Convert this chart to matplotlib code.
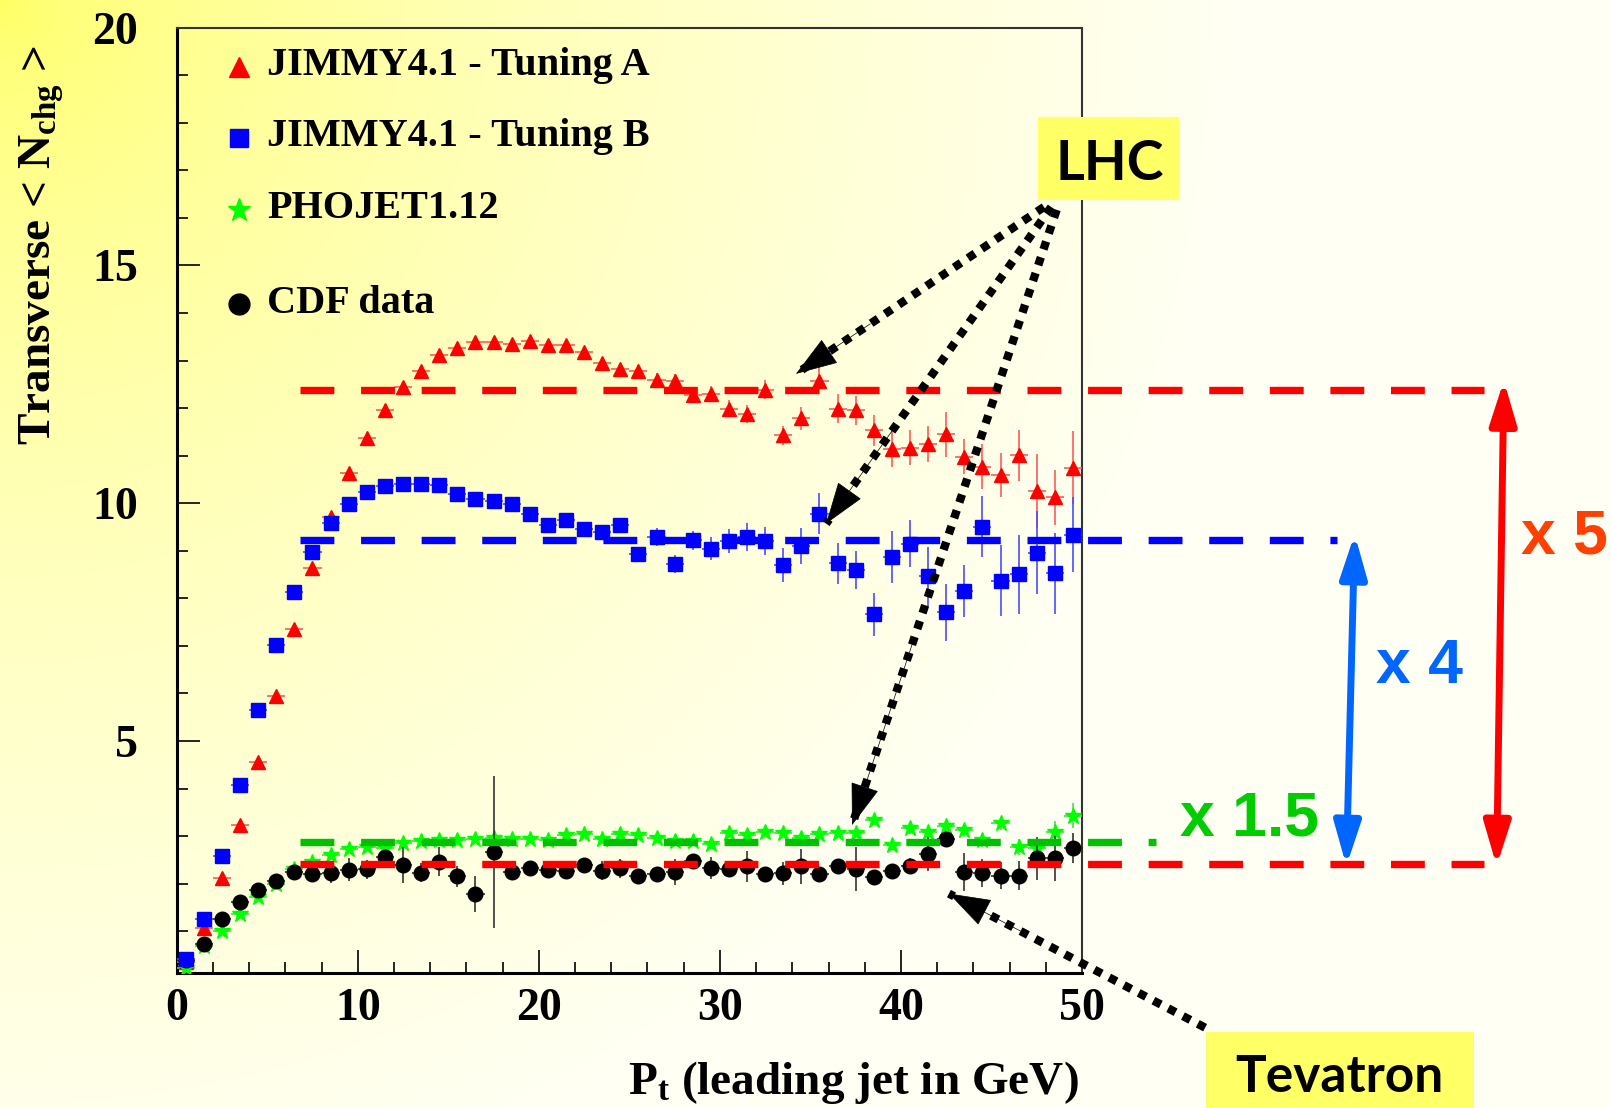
import numpy as np
import matplotlib.pyplot as plt
from matplotlib.patches import Rectangle
from matplotlib.ticker import MultipleLocator

plt.rcParams['font.family'] = ['Liberation Serif', 'DejaVu Serif']
plt.rcParams['font.weight'] = 'bold'
plt.rcParams['mathtext.fontset'] = 'custom'
plt.rcParams['mathtext.rm'] = 'Liberation Serif:bold'
plt.rcParams['mathtext.it'] = 'Liberation Serif:italic:bold'
plt.rcParams['mathtext.bf'] = 'Liberation Serif:bold'

# ---- data: transverse <Nchg> per 1 GeV bin of leading jet Pt ----
pt_bins = np.arange(0.5, 50.0, 1.0)

tuning_a = [0.35, 1.07, 2.11, 3.23, 4.55, 5.95, 7.36, 8.63, 9.72, 10.64,
            11.38, 11.97, 12.44, 12.79, 13.12, 13.26, 13.39, 13.39, 13.34, 13.41,
            13.32, 13.33, 13.17, 12.94, 12.82, 12.77, 12.59, 12.56, 12.28, 12.29,
            11.99, 11.88, 12.39, 11.43, 11.79, 12.58, 11.99, 11.95, 11.53, 11.14,
            11.17, 11.24, 11.45, 10.98, 10.77, 10.59, 11.01, 10.25, 10.12, 10.75]
tuning_a_err = [0.02, 0.03, 0.03, 0.03, 0.04, 0.04, 0.04, 0.05, 0.05, 0.05,
                0.05, 0.05, 0.06, 0.06, 0.06, 0.07, 0.07, 0.08, 0.08, 0.09,
                0.10, 0.10, 0.11, 0.12, 0.12, 0.13, 0.14, 0.15, 0.16, 0.17,
                0.18, 0.19, 0.20, 0.20, 0.24, 0.28, 0.30, 0.30, 0.32, 0.37,
                0.37, 0.38, 0.47, 0.37, 0.47, 0.47, 0.54, 0.78, 0.57, 0.77]

tuning_b = [0.42, 1.26, 2.59, 4.07, 5.65, 7.01, 8.14, 8.98, 9.59, 9.99,
            10.24, 10.37, 10.41, 10.40, 10.38, 10.20, 10.09, 10.05, 9.98, 9.77,
            9.54, 9.65, 9.46, 9.40, 9.54, 8.94, 9.29, 8.72, 9.22, 9.04,
            9.20, 9.29, 9.21, 8.70, 9.10, 9.78, 8.74, 8.60, 7.66, 8.87,
            9.15, 8.46, 7.71, 8.15, 9.51, 8.37, 8.51, 8.96, 8.53, 9.34]
tuning_b_err = [0.02, 0.03, 0.03, 0.03, 0.04, 0.04, 0.04, 0.05, 0.05, 0.05,
                0.05, 0.05, 0.06, 0.06, 0.06, 0.07, 0.07, 0.08, 0.08, 0.09,
                0.10, 0.10, 0.11, 0.12, 0.12, 0.12, 0.18, 0.19, 0.20, 0.24,
                0.25, 0.30, 0.30, 0.35, 0.37, 0.43, 0.43, 0.40, 0.45, 0.55,
                0.50, 0.62, 0.60, 0.55, 0.65, 0.75, 0.83, 0.87, 0.85, 0.79]

phojet = [0.22, 0.68, 1.00, 1.36, 1.71, 2.00, 2.30, 2.46, 2.60, 2.72,
          2.77, 2.74, 2.86, 2.89, 2.91, 2.91, 2.93, 2.95, 2.93, 2.93,
          2.91, 3.02, 3.05, 2.93, 3.05, 3.02, 2.96, 2.89, 2.89, 2.83,
          3.07, 3.02, 3.09, 3.07, 2.95, 3.05, 3.07, 3.07, 3.33, 2.82,
          3.16, 3.09, 3.21, 3.12, 2.91, 3.27, 2.77, 2.74, 3.09, 3.43]
phojet_err = [0.01, 0.01, 0.02, 0.02, 0.02, 0.02, 0.02, 0.02, 0.03, 0.03,
              0.03, 0.03, 0.03, 0.03, 0.03, 0.04, 0.04, 0.04, 0.04, 0.04,
              0.05, 0.05, 0.05, 0.05, 0.05, 0.06, 0.06, 0.06, 0.07, 0.07,
              0.08, 0.08, 0.08, 0.09, 0.09, 0.09, 0.10, 0.10, 0.10, 0.11,
              0.11, 0.12, 0.12, 0.13, 0.13, 0.14, 0.16, 0.20, 0.22, 0.26]

cdf = [0.40, 0.72, 1.25, 1.61, 1.86, 2.05, 2.24, 2.20, 2.22, 2.29,
       2.30, 2.56, 2.39, 2.23, 2.46, 2.15, 1.78, 2.66, 2.24, 2.33,
       2.29, 2.27, 2.39, 2.27, 2.32, 2.17, 2.20, 2.25, 2.48, 2.33,
       2.31, 2.36, 2.20, 2.22, 2.36, 2.20, 2.38, 2.31, 2.13, 2.27,
       2.38, 2.63, 2.93, 2.25, 2.22, 2.17, 2.17, 2.53, 2.53, 2.75]
cdf_err = [0.02, 0.03, 0.03, 0.03, 0.03, 0.04, 0.05, 0.10, 0.20, 0.24,
           0.20, 0.15, 0.38, 0.20, 0.30, 0.23, 0.37, 1.60, 0.15, 0.10,
           0.10, 0.15, 0.10, 0.20, 0.20, 0.10, 0.10, 0.27, 0.15, 0.24,
           0.15, 0.33, 0.10, 0.24, 0.37, 0.10, 0.10, 0.46, 0.15, 0.10,
           0.15, 0.36, 0.15, 0.40, 0.30, 0.28, 0.31, 0.46, 0.47, 0.31]

# plateau levels used in the comparison
level_a = 12.38
level_b = 9.23
level_phojet = 2.88
level_cdf = 2.42

labels = ["JIMMY4.1 - Tuning A", "JIMMY4.1 - Tuning B", "PHOJET1.12", "CDF data"]

# ---- figure ----
W, H = 1611, 1108
fig = plt.figure(figsize=(W / 100, H / 100), dpi=100)

# yellow radial shading from the top-left corner
bg = fig.add_axes([0, 0, 1, 1], zorder=-10)
gy, gx = np.mgrid[0:277, 0:403] * 4.0
d = np.clip(np.hypot(gx, gy) / 1250.0, 0, 1)
blue = 0.38 + 0.58 * d ** 0.6
img = np.dstack([np.ones_like(d), np.ones_like(d), blue])
bg.imshow(img, extent=[0, 1, 0, 1], aspect='auto', interpolation='bilinear')
bg.axis('off')

ax = fig.add_axes([176.7 / W, 1 - 973 / H, (1082 - 176.7) / W, (973 - 27.7) / H])
ax.set_facecolor('none')
ax.set_xlim(0, 50)
ax.set_ylim(0.12, 20)

ax.errorbar(pt_bins, tuning_a, yerr=tuning_a_err, xerr=0.5, fmt='^', ms=10.5,
            color='#ff0000', ecolor='#ff5a5a', elinewidth=1.2, capsize=0, zorder=3)
ax.errorbar(pt_bins, phojet, yerr=phojet_err, xerr=0.5, fmt='*', ms=12,
            color='#00ff00', ecolor='#40e040', elinewidth=1.2, capsize=0, zorder=3)
ax.errorbar(pt_bins, cdf, yerr=cdf_err, xerr=0.5, fmt='o', ms=10.5,
            color='black', ecolor='#333333', elinewidth=1.2, capsize=0, zorder=4)
ax.errorbar(pt_bins, tuning_b, yerr=tuning_b_err, xerr=0.5, fmt='s', ms=10.5,
            color='#0000ff', ecolor='#4b4bff', elinewidth=1.2, capsize=0, zorder=4.5)

# dashed plateau lines, running out of the frame
dash_kw = dict(lw=5.3, dashes=(4.6, 3.63), dash_capstyle='butt', clip_on=False, zorder=5)
ax.plot([6.8, 72.2], [level_a, level_a], color='#ff0000', **dash_kw)
ax.plot([6.8, 64.1], [level_b, level_b], color='#0000ff', **dash_kw)
ax.plot([6.8, 54.1], [level_phojet, level_phojet], color='#00c000', **dash_kw)
ax.plot([6.8, 72.2], [level_cdf, level_cdf], color='#ff0000', **dash_kw)

# ratio arrows
ratio_style = '<|-|>,head_length=0.52,head_width=0.16'
ax.annotate('', xy=(73.3, 12.58), xytext=(72.9, 2.37), annotation_clip=False,
            arrowprops=dict(arrowstyle=ratio_style, mutation_scale=50, lw=5,
                            color='#ff0000', shrinkA=0, shrinkB=0))
ax.annotate('', xy=(65.06, 9.35), xytext=(64.6, 2.37), annotation_clip=False,
            arrowprops=dict(arrowstyle=ratio_style, mutation_scale=50, lw=5,
                            color='#0066ff', shrinkA=0, shrinkB=0))

# dotted pointers from the LHC / Tevatron labels
pointers = [((47.9, 16.23), (34.2, 12.72)),
            ((48.3, 16.23), (35.87, 9.57)),
            ((48.6, 16.17), (37.3, 3.23)),
            ((56.8, -1.03), (42.65, 1.79))]
for (x0, y0), (x1, y1) in pointers:
    ax.plot([x0, x1], [y0, y1], color='black', lw=6, dashes=(1, 1),
            dash_capstyle='butt', clip_on=False, zorder=6)
    back = (x1 + 0.3 * (x0 - x1), y1 + 0.3 * (y0 - y1))
    ax.annotate('', xy=(x1, y1), xytext=back, annotation_clip=False,
                arrowprops=dict(arrowstyle='-|>,head_length=0.7,head_width=0.24',
                                mutation_scale=40, lw=0.5, color='black',
                                shrinkA=0, shrinkB=0), zorder=7)

# axes styling (ROOT look)
for side in ['left', 'bottom']:
    ax.spines[side].set_linewidth(2.2)
for side in ['top', 'right']:
    ax.spines[side].set_linewidth(1.5)
    ax.spines[side].set_color('#333333')
ax.xaxis.set_major_locator(MultipleLocator(10))
ax.xaxis.set_minor_locator(MultipleLocator(2))
ax.yaxis.set_major_locator(MultipleLocator(5))
ax.yaxis.set_minor_locator(MultipleLocator(1))
ax.tick_params(which='both', direction='in', top=False, right=False, width=1.2,
               labelsize=33)
ax.tick_params(which='major', length=16.5)
ax.tick_params(which='minor', length=8)
ax.tick_params(axis='x', pad=11)
ax.tick_params(axis='y', pad=28)

ax.text(0.9967, -0.128, r'P$_{\mathrm{t}}$ (leading jet in GeV)', transform=ax.transAxes,
        ha='right', va='baseline', fontsize=34)
ax.text(-0.1753, 0.981, r'Transverse < N$_{\mathrm{chg}}$ >', transform=ax.transAxes,
        rotation=90, ha='left', va='top', fontsize=34)

# legend
leg_markers = [('^', '#ff0000'), ('s', '#0000ff'), ('*', '#00ff00'), ('o', 'black')]
leg_sizes = [15, 13.5, 17, 15]
leg_mark_y = [0.958, 0.883, 0.807, 0.708]
leg_text_y = [0.950, 0.875, 0.799, 0.698]
for (m, c), s, ym, yt, lab in zip(leg_markers, leg_sizes, leg_mark_y, leg_text_y, labels):
    ax.plot([0.0688], [ym], marker=m, ms=s, color=c, ls='none', transform=ax.transAxes)
    ax.text(0.0997, yt, lab, transform=ax.transAxes, ha='left', va='baseline', fontsize=29)

# label boxes
fig.add_artist(Rectangle((1038 / W, 1 - 200 / H), 141 / W, 83 / H,
                         transform=fig.transFigure, fc='#ffff66', ec='none', zorder=8))
fig.text(1110 / W, 1 - 180 / H, 'LHC', ha='center', va='baseline', fontsize=40,
         family='Lato', weight='bold', zorder=9)
fig.add_artist(Rectangle((1206 / W, 0), 268 / W, (H - 1032) / H,
                         transform=fig.transFigure, fc='#ffff66', ec='none', zorder=8))
fig.text(1339 / W, 1 - 1092 / H, 'Tevatron', ha='center', va='baseline', fontsize=37,
         family='Lato', weight='bold', zorder=9)

# ratio labels
sans = ['Liberation Sans', 'DejaVu Sans']
fig.text(1564 / W, 1 - 553 / H, 'x 5', ha='center', va='baseline', fontsize=45,
         family=sans, weight='bold', color='#ff4000', zorder=9)
fig.text(1419 / W, 1 - 683 / H, 'x 4', ha='center', va='baseline', fontsize=45,
         family=sans, weight='bold', color='#0066ff', zorder=9)
fig.text(1249 / W, 1 - 835 / H, 'x 1.5', ha='center', va='baseline', fontsize=45,
         family=sans, weight='bold', color='#00cc00', zorder=9)

fig.savefig('out.png', dpi=100)
